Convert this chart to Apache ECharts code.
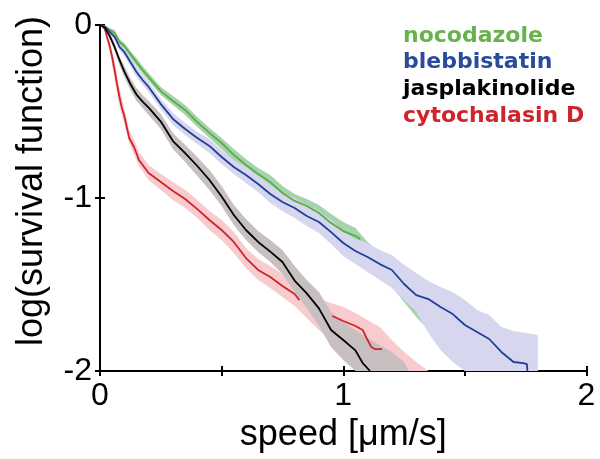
<!DOCTYPE html>
<html>
<head>
<meta charset="utf-8">
<script src="https://cdn.jsdelivr.net/npm/echarts/dist/echarts.min.js"></script>
<style>html,body{margin:0;padding:0;background:#fff}#c{width:600px;height:459px}</style>
</head>
<body>
<div id="c"></div>
<script>
// ---- Data ----
const seriesNames = ['nocodazole', 'blebbistatin', 'jasplakinolide', 'cytochalasin D'];
const xTickLabels = ['0', '1', '2'];
const yTickLabels = ['0', '-1', '-2'];

// nocodazole (green)
const nocX = [0,0.02,0.04,0.06,0.08,0.1,0.125,0.15,0.175,0.2,0.25,0.3,0.35,0.4,0.45,0.5,0.55,0.6,0.65,0.7,0.75,0.8,0.85,0.9,0.95,1.0,1.05,1.07];
const nocY = [0,-0.009,-0.029,-0.046,-0.098,-0.121,-0.168,-0.214,-0.260,-0.301,-0.382,-0.439,-0.491,-0.561,-0.624,-0.682,-0.751,-0.809,-0.861,-0.908,-0.971,-1.017,-1.046,-1.087,-1.145,-1.191,-1.220,-1.237];
const nocBandX = [0,0.02,0.04,0.06,0.08,0.1,0.125,0.15,0.175,0.2,0.25,0.3,0.35,0.4,0.45,0.5,0.55,0.6,0.65,0.7,0.75,0.8,0.85,0.9,0.95,1.0,1.05,1.1,1.15,1.2,1.25,1.3,1.35,1.4,1.45,1.5];
const nocLo = [0,-0.014,-0.040,-0.064,-0.116,-0.139,-0.191,-0.237,-0.283,-0.324,-0.405,-0.462,-0.520,-0.590,-0.653,-0.717,-0.786,-0.844,-0.902,-0.948,-1.012,-1.058,-1.092,-1.139,-1.197,-1.243,-1.283,-1.347,-1.416,-1.514,-1.601,-1.688,-1.763,-1.821,-1.890,-1.948];
const nocHi = [0,-0.003,-0.017,-0.029,-0.081,-0.104,-0.150,-0.191,-0.237,-0.277,-0.358,-0.410,-0.462,-0.532,-0.595,-0.653,-0.717,-0.775,-0.827,-0.867,-0.931,-0.977,-1.006,-1.040,-1.092,-1.139,-1.173,-1.254,-1.312,-1.387,-1.462,-1.543,-1.618,-1.682,-1.751,-1.821];

// blebbistatin (blue)
const blebX = [0,0.02,0.04,0.06,0.08,0.1,0.125,0.15,0.175,0.2,0.25,0.3,0.35,0.4,0.45,0.5,0.55,0.6,0.65,0.7,0.75,0.8,0.85,0.9,0.95,1.0,1.05,1.1,1.15,1.2,1.25,1.3,1.35,1.4,1.45,1.5,1.55,1.6,1.65,1.7,1.74,1.755,1.757];
const blebY = [0,-0.009,-0.040,-0.069,-0.127,-0.156,-0.214,-0.272,-0.318,-0.358,-0.457,-0.543,-0.601,-0.653,-0.699,-0.763,-0.821,-0.867,-0.919,-0.977,-1.023,-1.058,-1.104,-1.139,-1.197,-1.260,-1.306,-1.341,-1.382,-1.416,-1.497,-1.561,-1.584,-1.630,-1.671,-1.734,-1.775,-1.815,-1.890,-1.948,-1.954,-1.960,-2.0];
const blebBandX = [0,0.02,0.04,0.06,0.08,0.1,0.125,0.15,0.175,0.2,0.25,0.3,0.35,0.4,0.45,0.5,0.55,0.6,0.65,0.7,0.75,0.8,0.85,0.9,0.95,1.0,1.05,1.1,1.15,1.2,1.25,1.3,1.35,1.4,1.45,1.5,1.55,1.6,1.65,1.7,1.75,1.8];
const blebLo = [0,-0.014,-0.052,-0.087,-0.145,-0.179,-0.237,-0.301,-0.347,-0.387,-0.486,-0.578,-0.636,-0.688,-0.740,-0.803,-0.861,-0.913,-0.965,-1.029,-1.075,-1.116,-1.162,-1.202,-1.266,-1.335,-1.382,-1.428,-1.474,-1.520,-1.590,-1.659,-1.780,-1.879,-1.948,-2,-2,-2,-2,-2,-2,-2];
const blebHi = [0,-0.003,-0.029,-0.052,-0.110,-0.139,-0.191,-0.243,-0.289,-0.329,-0.428,-0.509,-0.566,-0.618,-0.659,-0.723,-0.780,-0.821,-0.873,-0.925,-0.971,-1.000,-1.040,-1.075,-1.127,-1.191,-1.237,-1.260,-1.301,-1.329,-1.387,-1.434,-1.480,-1.514,-1.543,-1.590,-1.647,-1.676,-1.746,-1.769,-1.780,-1.792];

// jasplakinolide (black)
const jasX = [0,0.02,0.04,0.06,0.08,0.1,0.125,0.15,0.175,0.2,0.25,0.3,0.35,0.4,0.45,0.5,0.55,0.6,0.65,0.7,0.75,0.8,0.85,0.9,0.95,1.0,1.05,1.08,1.11];
const jasY = [0,-0.015,-0.064,-0.127,-0.202,-0.269,-0.341,-0.402,-0.443,-0.478,-0.558,-0.671,-0.740,-0.815,-0.896,-0.991,-1.098,-1.185,-1.254,-1.310,-1.370,-1.477,-1.551,-1.638,-1.763,-1.821,-1.881,-1.954,-2.0];
const jasBandX = [0,0.02,0.04,0.06,0.08,0.1,0.125,0.15,0.175,0.2,0.25,0.3,0.35,0.4,0.45,0.5,0.55,0.6,0.65,0.7,0.75,0.8,0.85,0.9,0.95,1.0,1.05,1.1,1.15,1.2,1.25,1.27];
const jasLo = [0,-0.023,-0.081,-0.150,-0.231,-0.301,-0.376,-0.439,-0.480,-0.520,-0.601,-0.717,-0.792,-0.873,-0.954,-1.046,-1.156,-1.243,-1.312,-1.370,-1.439,-1.543,-1.636,-1.740,-1.861,-1.936,-2,-2,-2,-2,-2,-2];
const jasHi = [0,-0.009,-0.046,-0.104,-0.179,-0.237,-0.306,-0.364,-0.405,-0.439,-0.514,-0.624,-0.694,-0.763,-0.838,-0.931,-1.040,-1.121,-1.191,-1.243,-1.301,-1.393,-1.474,-1.543,-1.659,-1.717,-1.763,-1.809,-1.850,-1.890,-1.948,-2.0];

// cytochalasin D (red)
const cytX = [0,0.01,0.02,0.03,0.04,0.05,0.06,0.07,0.08,0.09,0.1,0.12,0.14,0.16,0.2,0.25,0.3,0.35,0.4,0.45,0.5,0.55,0.6,0.65,0.7,0.75,0.8,0.82,0.88,0.955,1.0,1.05,1.08,1.1,1.115,1.13,1.16];
const cytY = [0,-0.006,-0.023,-0.075,-0.121,-0.185,-0.260,-0.341,-0.416,-0.480,-0.526,-0.653,-0.705,-0.780,-0.855,-0.908,-0.960,-1.006,-1.064,-1.127,-1.185,-1.254,-1.347,-1.416,-1.457,-1.509,-1.555,-1.590,null,-1.682,-1.711,-1.740,-1.763,-1.821,-1.861,-1.873,-1.873];
const cytBandX = [0,0.02,0.04,0.06,0.08,0.1,0.12,0.14,0.16,0.2,0.25,0.3,0.35,0.4,0.45,0.5,0.55,0.6,0.65,0.7,0.75,0.8,0.85,0.9,0.95,1.0,1.05,1.1,1.15,1.2,1.25,1.3,1.35];
const cytLo = [0,-0.035,-0.156,-0.318,-0.468,-0.572,-0.682,-0.751,-0.815,-0.896,-0.954,-1.012,-1.058,-1.116,-1.185,-1.243,-1.318,-1.405,-1.474,-1.520,-1.572,-1.624,-1.694,-1.763,-1.821,-1.879,-1.925,-1.971,-2,-2,-2,-2,-2];
const cytHi = [0,-0.012,-0.098,-0.214,-0.364,-0.480,-0.607,-0.665,-0.734,-0.809,-0.861,-0.908,-0.954,-1.012,-1.075,-1.127,-1.197,-1.289,-1.353,-1.393,-1.439,-1.491,-1.561,-1.584,-1.607,-1.630,-1.665,-1.705,-1.746,-1.821,-1.890,-1.948,-2.0];

// ---- Styling ----
const lineColors = ['#5aae45', '#1f3f98', '#000000', '#d2232a'];
const bandColors = ['#a6d3ad', '#d6d6ef', '#c8c0c0', '#f8cbce'];
const legendColors = ['#68b24c', '#2a4a9c', '#000000', '#d0232a'];
const FONT = 'Liberation Sans, Arial, sans-serif';

function zip(xs, ys) {
  const out = [];
  for (let i = 0; i < xs.length; i++) out.push([xs[i], ys[i] === null ? '-' : ys[i]]);
  return out;
}

function band(name, xs, lo, hi, color) {
  return {
    type: 'custom', name: name + ' band', silent: true, z: 1, clip: true,
    data: [[xs[0], hi[0]]],
    renderItem: function (params, api) {
      const pts = [];
      for (let i = 0; i < xs.length; i++) pts.push(api.coord([xs[i], hi[i]]));
      for (let i = xs.length - 1; i >= 0; i--) pts.push(api.coord([xs[i], lo[i]]));
      return { type: 'polygon', shape: { points: pts }, style: { fill: color } };
    }
  };
}

function line(name, xs, ys, color) {
  return {
    type: 'line', name: name, z: 3, showSymbol: false, symbol: 'none', clip: true,
    connectNulls: false, data: zip(xs, ys),
    lineStyle: { color: color, width: 1.8 }, itemStyle: { color: color }
  };
}

const tickStyle = { color: '#000', width: 2 };
const chart = echarts.init(document.getElementById('c'), null, { renderer: 'canvas' });
chart.setOption({
  animation: false,
  backgroundColor: '#ffffff',
  grid: { left: 100, right: 13.5, top: 25, bottom: 88, containLabel: false },
  xAxis: [{
    type: 'value', min: 0, max: 2, interval: 0.5,
    axisLine: { onZero: false, lineStyle: { color: '#000', width: 2 } },
    axisTick: { length: 5, lineStyle: tickStyle },
    splitLine: { show: false },
    axisLabel: {
      color: '#000', fontSize: 32, fontFamily: FONT, margin: 9,
      formatter: function (v) { const s = String(Math.round(v * 1000) / 1000); return xTickLabels.indexOf(s) >= 0 ? s : ''; }
    },
    name: 'speed [μm/s]', nameLocation: 'middle', nameGap: 45,
    nameTextStyle: { color: '#000', fontSize: 36, fontFamily: FONT }
  }, {
    type: 'value', min: 0, max: 2, interval: 0.5, position: 'bottom',
    axisLine: { show: false, onZero: false }, axisLabel: { show: false }, splitLine: { show: false },
    axisTick: { inside: true, length: 5, lineStyle: tickStyle }
  }],
  yAxis: [{
    type: 'value', min: -2, max: 0, interval: 1,
    axisLine: { onZero: false, lineStyle: { color: '#000', width: 2 } },
    axisTick: { length: 5, lineStyle: tickStyle },
    splitLine: { show: false },
    axisLabel: {
      color: '#000', fontSize: 32, fontFamily: FONT, margin: 8,
      formatter: function (v) { const s = String(Math.round(v)); return yTickLabels.indexOf(s) >= 0 ? s : ''; }
    }
  }, {
    type: 'value', min: -2, max: 0, interval: 1, position: 'left',
    axisLine: { show: false, onZero: false }, axisLabel: { show: false }, splitLine: { show: false },
    axisTick: { inside: true, length: 5, lineStyle: tickStyle }
  }],
  graphic: [
    {
      type: 'text', x: 32, y: 181, rotation: Math.PI / 2, silent: true,
      style: { text: 'log(survival function)', fill: '#000', font: '36px ' + FONT, align: 'center', verticalAlign: 'middle' }
    }
  ].concat(seriesNames.map(function (n, i) {
    return {
      type: 'text', left: 403, top: 25 + i * 26.7, silent: true,
      style: { text: n, fill: legendColors[i], font: 'bold 22px DejaVu Sans, Verdana, sans-serif' }
    };
  })),
  series: [
    band(seriesNames[0], nocBandX, nocLo, nocHi, bandColors[0]),
    band(seriesNames[1], blebBandX, blebLo, blebHi, bandColors[1]),
    band(seriesNames[3], cytBandX, cytLo, cytHi, bandColors[3]),
    band(seriesNames[2], jasBandX, jasLo, jasHi, bandColors[2]),
    line(seriesNames[0], nocX, nocY, lineColors[0]),
    line(seriesNames[1], blebX, blebY, lineColors[1]),
    line(seriesNames[3], cytX, cytY, lineColors[3]),
    line(seriesNames[2], jasX, jasY, lineColors[2])
  ]
});
</script>
</body>
</html>
